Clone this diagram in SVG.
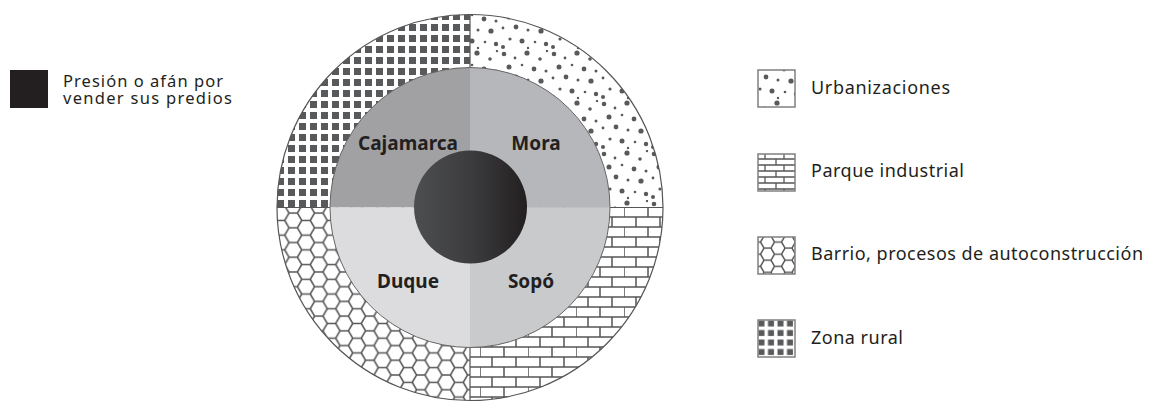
<svg xmlns="http://www.w3.org/2000/svg" width="1153" height="403" viewBox="0 0 1153 403">
<style>
.lbl{font-family:"Noto Sans","Open Sans",sans-serif;font-size:18px;fill:#231f20}
.lbl2{font-family:"Noto Sans","Open Sans",sans-serif;font-size:16.5px;fill:#231f20}
.q{font-family:"Noto Sans","Open Sans",sans-serif;font-size:19px;font-weight:bold;fill:#231f20;text-anchor:middle}
.ring{stroke:#555;stroke-width:1.2}
.icon{stroke:#808080;stroke-width:1.5}
</style>
<defs>
<pattern id="sq" patternUnits="userSpaceOnUse" width="11" height="11" x="2" y="2">
<rect width="11" height="11" fill="#fff"/><rect x="0" y="0" width="7" height="7" fill="#58595b"/>
</pattern>
<pattern id="sqi" patternUnits="userSpaceOnUse" width="9.5" height="9.5" x="757" y="319">
<rect width="9.5" height="9.5" fill="#fff"/><rect x="1.5" y="1.5" width="6" height="6" fill="#58595b"/>
</pattern>
<pattern id="br" patternUnits="userSpaceOnUse" width="48" height="20" x="0" y="7">
<rect width="48" height="20" fill="#fff"/>
<path d="M0,0H48M0,10H48M0,20H48M0,0V10M24,0V10M12,10V20M36,10V20" stroke="#555" stroke-width="1.5" fill="none"/>
</pattern>
<pattern id="bri" patternUnits="userSpaceOnUse" width="38" height="24" x="757" y="153">
<rect width="38" height="24" fill="#fff"/>
<path d="M0,0H38M0,6H38M0,18H38M0,12H38M0,24H38M8,0V6M27,0V6M19,6V12M8,12V18M27,12V18M19,18V24" stroke="#555" stroke-width="1.3" fill="none"/>
</pattern>
<pattern id="hx" patternUnits="userSpaceOnUse" width="25.5" height="14.72" x="0" y="7">
<rect width="25.5" height="14.72" fill="#fff"/>
<path d="M0,7.36H4.25L8.5,0H17L21.25,7.36H25.5M4.25,7.36L8.5,14.72H17L21.25,7.36" stroke="#555" stroke-width="1.5" fill="none"/>
</pattern>
<pattern id="hxi" patternUnits="userSpaceOnUse" width="21" height="12.12" x="757" y="236">
<rect width="21" height="12.12" fill="#fff"/>
<path d="M0,6.06H3.5L7,0H14L17.5,6.06H21M3.5,6.06L7,12.12H14L17.5,6.06" stroke="#555" stroke-width="1.4" fill="none"/>
</pattern>
<pattern id="dt" patternUnits="userSpaceOnUse" width="50" height="50">
<rect width="50" height="50" fill="#fff"/>
<g fill="#58595b">
<circle cx="4" cy="4" r="2.3"/><circle cx="15" cy="8" r="1.4"/><circle cx="27" cy="3" r="2.6"/><circle cx="40" cy="9" r="1.8"/>
<circle cx="9" cy="17" r="2.5"/><circle cx="22" cy="15" r="1.3"/><circle cx="34" cy="19" r="2.4"/><circle cx="46" cy="21" r="1.5"/>
<circle cx="3" cy="28" r="1.4"/><circle cx="16" cy="27" r="2.4"/><circle cx="28" cy="30" r="1.5"/><circle cx="41" cy="31" r="2.6"/>
<circle cx="10" cy="39" r="1.6"/><circle cx="22" cy="41" r="2.5"/><circle cx="35" cy="42" r="1.3"/><circle cx="46" cy="44" r="2.2"/>
<circle cx="3" cy="47" r="2"/><circle cx="28" cy="48" r="1.2"/><circle cx="47" cy="1" r="1.2"/>
</g>
</pattern>
<linearGradient id="core" x1="0" y1="0" x2="1" y2="0">
<stop offset="0" stop-color="#4d4e50"/><stop offset="0.5" stop-color="#3c3c3e"/><stop offset="1" stop-color="#231f20"/>
</linearGradient>
</defs>
<rect width="1153" height="403" fill="#fff"/>

<g id="outer-ring">
<path id="zona-rural" d="M470,207.5V14.5A193,193 0 0 0 277,207.5Z" fill="url(#sq)"/>
<path id="urbanizaciones" d="M470,207.5V14.5A193,193 0 0 1 663,207.5Z" fill="url(#dt)"/>
<path id="parque" d="M470,207.5H663A193,193 0 0 1 470,400.5Z" fill="url(#br)"/>
<path id="barrio" d="M470,207.5H277A193,193 0 0 0 470,400.5Z" fill="url(#hx)"/>
<circle cx="470" cy="207.5" r="193" fill="none" class="ring"/>
<path d="M470,14.5V67.5M470,347.5V400.5M277,207.5H330M610,207.5H663" class="ring"/>
</g>

<g id="inner">
<path id="q-cajamarca" d="M470,207.5V67.5A140,140 0 0 0 330,207.5Z" fill="#a1a1a4"/>
<path id="q-mora" d="M470,207.5V67.5A140,140 0 0 1 610,207.5Z" fill="#b6b7ba"/>
<path id="q-sopo" d="M470,207.5H610A140,140 0 0 1 470,347.5Z" fill="#c9cacc"/>
<path id="q-duque" d="M470,207.5H330A140,140 0 0 0 470,347.5Z" fill="#dcdcde"/>
<circle cx="470" cy="207.5" r="140" fill="none" stroke="#666" stroke-width="1"/>
<text class="q" x="408" y="150" textLength="100" lengthAdjust="spacingAndGlyphs">Cajamarca</text>
<text class="q" x="536" y="150">Mora</text>
<text class="q" x="408" y="288">Duque</text>
<text class="q" x="531" y="288">Sopó</text>
</g>

<g id="core-node">
<circle cx="470.5" cy="207" r="56.5" fill="url(#core)"/>
</g>

<g id="legend-presion">
<rect x="10" y="70" width="38" height="38" fill="#231f20"/>
<text class="lbl2" x="63" y="86.5" textLength="160">Presión o afán por</text>
<text class="lbl2" x="63" y="103.5" textLength="169">vender sus predios</text>
</g>

<g id="legend-urbanizaciones">
<rect x="758" y="70" width="37" height="37" fill="url(#dt)" class="icon"/>
<text class="lbl" x="811" y="94" textLength="139">Urbanizaciones</text>
</g>
<g id="legend-parque">
<rect x="758" y="154" width="37" height="37" fill="url(#bri)" class="icon"/>
<text class="lbl" x="811" y="177" textLength="153">Parque industrial</text>
</g>
<g id="legend-barrio">
<rect x="758" y="237" width="37" height="37" fill="url(#hxi)" class="icon"/>
<text class="lbl" x="811" y="260" textLength="332">Barrio, procesos de autoconstrucción</text>
</g>
<g id="legend-rural">
<rect x="758" y="320" width="37" height="37" fill="url(#sqi)" class="icon"/>
<text class="lbl" x="811" y="344" textLength="92">Zona rural</text>
</g>
<g id="connectors"/>
</svg>
